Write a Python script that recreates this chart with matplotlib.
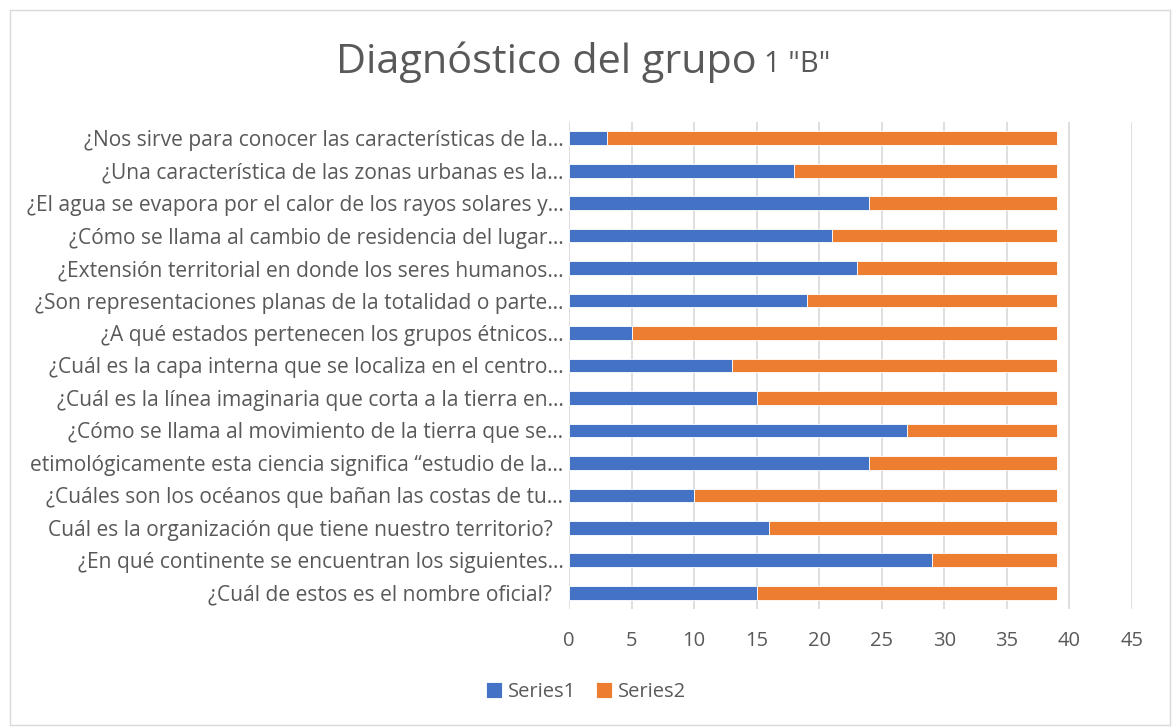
import matplotlib
matplotlib.use("Agg")
import matplotlib.pyplot as plt
from matplotlib.patches import Rectangle

categories = [
    "¿Cuál de estos es el nombre oficial?  ",
    "¿En qué continente se encuentran los siguientes…",
    "Cuál es la organización que tiene nuestro territorio?  ",
    "¿Cuáles son los océanos que bañan las costas de tu…",
    "etimológicamente esta ciencia significa “estudio de la…",
    "¿Cómo se llama al movimiento de la tierra que se…",
    "¿Cuál es la línea imaginaria que corta a la tierra en…",
    "¿Cuál es la capa interna que se localiza en el centro…",
    "¿A qué estados pertenecen los grupos étnicos…",
    "¿Son representaciones planas de la totalidad o parte…",
    "¿Extensión territorial en donde los seres humanos…",
    "¿Cómo se llama al cambio de residencia del lugar…",
    "¿El agua se evapora por el calor de los rayos solares y…",
    "¿Una característica de las zonas urbanas es la…",
    "¿Nos sirve para conocer las características de la…",
]
series1 = [15, 29, 16, 10, 24, 27, 15, 13, 5, 19, 23, 21, 24, 18, 3]
series2 = [24, 10, 23, 29, 15, 12, 24, 26, 34, 20, 16, 18, 15, 21, 36]
xticks = [0, 5, 10, 15, 20, 25, 30, 35, 40, 45]

font = ["Open Sans", "DejaVu Sans"]
plt.rcParams["font.family"] = font

fig = plt.figure(figsize=(11.72, 7.28), dpi=100)
fig.patches.append(Rectangle((10/1172, 3/728), 1160/1172, 715/728, transform=fig.transFigure,
                             fill=False, edgecolor="#d9d9d9", linewidth=1))
ax = fig.add_axes([569/1172, 1-609/728, (1132-569)/1172, 487/728])

y = list(range(len(categories)))
ax.barh(y, series1, height=0.42, color="#4472C4", edgecolor="white", linewidth=0.6, label="Series1", zorder=3)
ax.barh(y, series2, left=series1, height=0.42, color="#ED7D31", edgecolor="white", linewidth=0.6, label="Series2", zorder=3)

ax.set_xlim(0, 45)
ax.set_ylim(-0.5, len(categories) - 0.5)
ax.set_xticks(xticks)
ax.set_yticks(y)
ax.set_yticklabels(categories, fontsize=15.1, color="#595959")
ax.tick_params(axis="x", labelsize=14.5, colors="#595959", length=0, pad=16)
ax.tick_params(axis="y", length=0, pad=4)
ax.grid(axis="x", color="#d9d9d9", linewidth=1.2, zorder=0)
for s in ax.spines.values():
    s.set_visible(False)

fig.text(757/1172, 1-62/728, "Diagnóstico del grupo", fontsize=29.8, color="#595959",
         ha="right", va="center", family=font)
fig.text(764/1172, 1-64/728, '1 "B"', fontsize=21, color="#595959",
         ha="left", va="center", family=font)

leg = fig.legend(loc="center", bbox_to_anchor=(0.5, 1-692/728), ncol=2, frameon=False,
                 fontsize=14.5, handlelength=0.8, handleheight=0.8, columnspacing=1.0,
                 handletextpad=0.3)
for t in leg.get_texts():
    t.set_color("#595959")

fig.savefig("out.png", dpi=100, facecolor="white")
